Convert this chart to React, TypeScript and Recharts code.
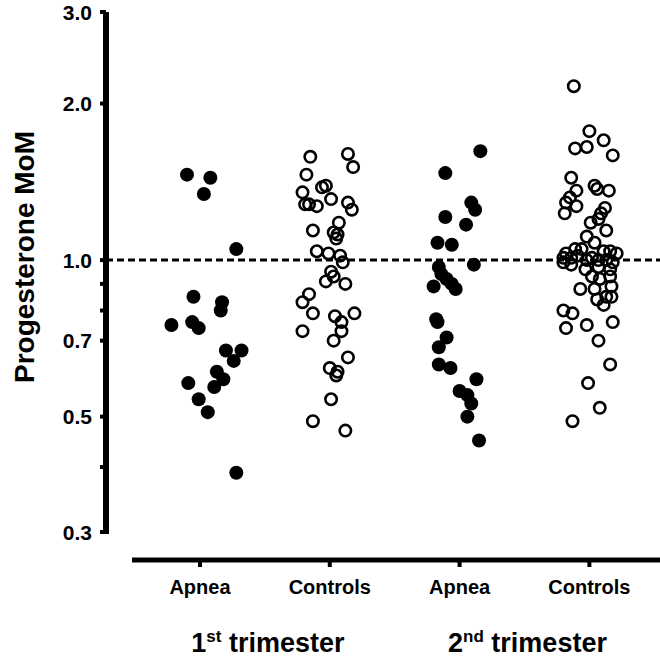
import { ReferenceLine, Scatter, ScatterChart, XAxis, YAxis } from "recharts"

const groups = ["Apnea", "Controls", "Apnea", "Controls"]
const trimesters = [
  { pos: 1.5, num: "1", sup: "st" },
  { pos: 3.5, num: "2", sup: "nd" },
]
const yTicks = [0.3, 0.4, 0.5, 0.7, 0.8, 0.9, 1, 2, 3]
const yLabeled = [0.3, 0.5, 0.7, 1, 2, 3]

// MoM values per group, with the horizontal scatter (in category units)
const apnea1st = [1.46, 1.44, 1.34, 1.05, 0.85, 0.83, 0.8, 0.75, 0.76, 0.74, 0.67, 0.67, 0.64, 0.61, 0.59, 0.57, 0.58, 0.54, 0.51, 0.39]
const apnea1stJitter = [-0.1, 0.08, 0.03, 0.28, -0.05, 0.17, 0.16, -0.22, -0.06, -0.01, 0.2, 0.32, 0.26, 0.13, 0.18, 0.11, -0.09, -0.01, 0.06, 0.28]

const controls1st = [1.58, 1.6, 1.51, 1.46, 1.38, 1.39, 1.35, 1.31, 1.29, 1.28, 1.28, 1.27, 1.25, 1.18, 1.14, 1.13, 1.12, 1.1, 1.04, 1.03, 1.02, 0.99, 0.95, 0.93, 0.91, 0.9, 0.86, 0.83, 0.79, 0.78, 0.79, 0.76, 0.73, 0.73, 0.7, 0.65, 0.62, 0.61, 0.6, 0.54, 0.49, 0.47]
const controls1stJitter = [-0.15, 0.14, 0.18, -0.18, -0.06, -0.03, -0.21, 0.01, 0.14, -0.19, -0.16, -0.1, 0.17, 0.07, -0.13, 0.03, 0.06, 0.05, -0.1, -0.01, 0.08, 0.1, 0.01, 0.03, -0.03, 0.12, -0.16, -0.21, -0.13, 0.04, 0.19, 0.09, 0.09, -0.21, 0.03, 0.14, 0.0, 0.06, 0.05, 0.01, -0.13, 0.12]

const apnea2nd = [1.62, 1.47, 1.29, 1.25, 1.21, 1.17, 1.08, 1.07, 0.98, 0.97, 0.94, 0.92, 0.89, 0.9, 0.88, 0.77, 0.76, 0.71, 0.68, 0.63, 0.62, 0.59, 0.56, 0.55, 0.53, 0.5, 0.45]
const apnea2ndJitter = [0.16, -0.11, 0.09, 0.12, -0.11, 0.05, -0.17, -0.06, 0.11, -0.16, -0.14, -0.1, -0.2, -0.06, -0.03, -0.18, -0.17, -0.1, -0.16, -0.16, -0.07, 0.13, 0.0, 0.06, 0.09, 0.06, 0.15]

const controls2nd = [2.16, 1.77, 1.7, 1.65, 1.64, 1.59, 1.44, 1.39, 1.37, 1.36, 1.36, 1.32, 1.29, 1.27, 1.23, 1.26, 1.23, 1.2, 1.18, 1.14, 1.11, 1.08, 1.05, 1.03, 1.01, 0.99, 1.01, 1.02, 1.05, 1.0, 1.01, 1.0, 1.04, 1.04, 1.03, 1.0, 0.99, 0.98, 0.96, 0.97, 0.96, 0.93, 0.92, 0.93, 0.88, 0.88, 0.89, 0.85, 0.84, 0.85, 0.82, 0.8, 0.79, 0.74, 0.75, 0.76, 0.7, 0.63, 0.58, 0.52, 0.49]
const controls2ndJitter = [-0.12, 0.0, 0.11, -0.02, -0.11, 0.18, -0.14, 0.04, 0.06, 0.15, -0.1, -0.15, -0.18, -0.1, -0.19, 0.12, 0.09, 0.07, 0.01, 0.13, -0.02, 0.04, -0.11, -0.18, -0.2, -0.2, -0.14, -0.09, -0.06, -0.02, 0.02, 0.07, 0.11, 0.16, 0.21, 0.13, 0.18, -0.14, -0.03, 0.07, 0.16, 0.02, 0.08, 0.16, -0.07, 0.04, 0.17, 0.17, 0.06, 0.13, 0.11, -0.2, -0.13, -0.18, -0.02, 0.18, 0.07, 0.16, -0.01, 0.08, -0.13]

const toPoints = (cat: number, vals: number[], jitter: number[]) =>
  vals.map((v, i) => ({ x: cat + jitter[i], y: v }))

const apneaData = [...toPoints(1, apnea1st, apnea1stJitter), ...toPoints(3, apnea2nd, apnea2ndJitter)]
const controlData = [...toPoints(2, controls1st, controls1stJitter), ...toPoints(4, controls2nd, controls2ndJitter)]

const font = "'Liberation Sans', Arial, sans-serif"

const FilledDot = (p: any) => <circle cx={p.cx} cy={p.cy} r={7} fill="#000" />
const OpenDot = (p: any) => <circle cx={p.cx} cy={p.cy} r={5.7} fill="none" stroke="#000" strokeWidth={2.6} />

const YTick = ({ x, y, payload }: any) =>
  yLabeled.includes(payload.value) ? (
    <text x={x} y={y} dy="0.36em" textAnchor="end" fontFamily={font} fontWeight="bold" fontSize={21} fill="#000">
      {payload.value.toFixed(1)}
    </text>
  ) : (
    <g />
  )

const GroupTick = ({ x, y, payload }: any) => (
  <text x={x} y={y + 27} textAnchor="middle" fontFamily={font} fontWeight="bold" fontSize={20} fill="#000">
    {groups[payload.value - 1]}
  </text>
)

const TrimesterTick = ({ x, y, payload }: any) => {
  const t = trimesters.find((d) => d.pos === payload.value)
  if (!t) return <g />
  return (
    <text x={x + 3} y={y + 52} textAnchor="middle" fontFamily={font} fontWeight="bold" fontSize={27} fill="#000">
      {t.num}
      <tspan fontSize={17} dy={-10}>{t.sup}</tspan>
      <tspan dy={10}> trimester</tspan>
    </text>
  )
}

const YLabel = () => (
  <text
    x={34}
    y={257}
    transform="rotate(-90 34 257)"
    textAnchor="middle"
    fontFamily={font}
    fontWeight="bold"
    fontSize={28}
    fill="#000"
  >
    Progesterone MoM
  </text>
)

export default function App() {
  return (
    <div style={{ position: "absolute", left: 0, top: 0 }}>
      <ScatterChart width={660} height={659} margin={{ top: 12, right: 0, bottom: 0, left: 0 }}>
        <XAxis
          type="number"
          dataKey="x"
          domain={[0.276, 4.544]}
          ticks={[1, 2, 3, 4]}
          interval={0}
          allowDataOverflow
          height={40}
          axisLine={{ stroke: "#000", strokeWidth: 5, strokeDasharray: "0 26 700" }}
          tickLine={{ stroke: "#000", strokeWidth: 4 }}
          tickSize={7}
          tickMargin={0}
          tick={<GroupTick />}
        />
        <XAxis
          xAxisId="trimester"
          type="number"
          dataKey="x"
          domain={[0.276, 4.544]}
          ticks={[1.5, 3.5]}
          interval={0}
          allowDataOverflow
          height={59}
          axisLine={false}
          tickLine={false}
          tickSize={0}
          tickMargin={0}
          tick={<TrimesterTick />}
        />
        <YAxis
          type="number"
          dataKey="y"
          scale="log"
          domain={[0.3, 3]}
          ticks={yTicks}
          interval={0}
          allowDataOverflow
          width={106}
          padding={{ top: 0, bottom: 28 }}
          axisLine={{ stroke: "#000", strokeWidth: 6, strokeDasharray: "522 100" }}
          tickLine={{ stroke: "#000", strokeWidth: 4 }}
          tickSize={6}
          tickMargin={8}
          tick={<YTick />}
          label={{ content: () => <YLabel /> }}
        />
        <ReferenceLine y={1} stroke="#000" strokeWidth={3} strokeDasharray="7 4" />
        <Scatter data={apneaData} shape={FilledDot} isAnimationActive={false} />
        <Scatter data={controlData} shape={OpenDot} isAnimationActive={false} />
      </ScatterChart>
    </div>
  )
}
